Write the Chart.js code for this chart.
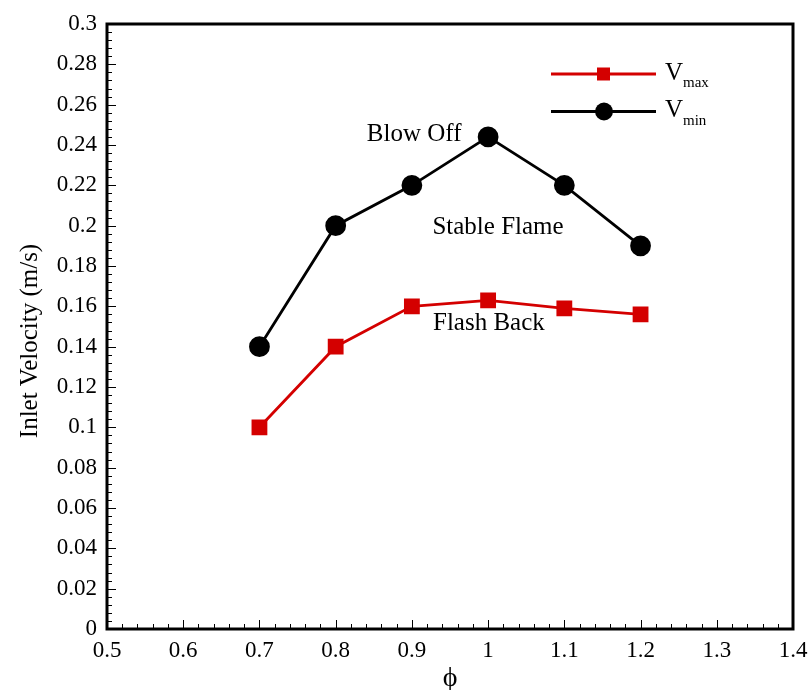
<!DOCTYPE html>
<html>
<head>
<meta charset="utf-8">
<script src="https://cdn.jsdelivr.net/npm/chart.js@4"></script>
<style>
  html, body { margin: 0; padding: 0; background: #fff; }
  #wrap { width: 808px; height: 690px; }
</style>
</head>
<body>
<div id="wrap"><canvas id="chart" width="808" height="690"></canvas></div>
<script>
const phi = [0.7, 0.8, 0.9, 1.0, 1.1, 1.2];
const vMax = [0.1, 0.14, 0.16, 0.163, 0.159, 0.156];
const vMin = [0.14, 0.2, 0.22, 0.244, 0.22, 0.19];
const xTicks = [0.5, 0.6, 0.7, 0.8, 0.9, 1.0, 1.1, 1.2, 1.3, 1.4];
const yTicks = [0, 0.02, 0.04, 0.06, 0.08, 0.1, 0.12, 0.14, 0.16, 0.18, 0.2, 0.22, 0.24, 0.26, 0.28, 0.3];
const notes = [
    { text: 'Blow Off', x: 0.903, y: 0.245 },
    { text: 'Stable Flame', x: 1.013, y: 0.1993 },
    { text: 'Flash Back', x: 1.001, y: 0.1517 }
];

const RED = '#d40000';
const SERIF = '"Liberation Serif", "Times New Roman", serif';

// frame, inward ticks, axis titles, notes and legend
const decor = {
    id: 'decor',
    afterDatasetsDraw(chart) {
        const ctx = chart.ctx;
        const a = chart.chartArea;
        const xs = chart.scales.x, ys = chart.scales.y;
        ctx.save();
        ctx.strokeStyle = '#000';
        ctx.lineWidth = 1;
        for (let i = 0; i <= 45; i++) {
            const px = Math.round(xs.getPixelForValue(0.5 + i * 0.02)) + 0.5;
            const len = i % 5 === 0 ? 9 : 5;
            ctx.beginPath();
            ctx.moveTo(px, a.bottom);
            ctx.lineTo(px, a.bottom - len);
            ctx.stroke();
        }
        for (let i = 0; i <= 75; i++) {
            const py = Math.round(ys.getPixelForValue(i * 0.004)) + 0.5;
            const len = i % 5 === 0 ? 9 : 5;
            ctx.beginPath();
            ctx.moveTo(a.left, py);
            ctx.lineTo(a.left + len, py);
            ctx.stroke();
        }
        ctx.lineWidth = 3;
        ctx.strokeRect(a.left, a.top, a.right - a.left, a.bottom - a.top);

        ctx.fillStyle = '#000';
        ctx.textAlign = 'center';
        ctx.textBaseline = 'middle';
        ctx.font = '25px ' + SERIF;
        notes.forEach(n => {
            ctx.fillText(n.text, xs.getPixelForValue(n.x), ys.getPixelForValue(n.y));
        });

        // axis titles
        ctx.font = '28px ' + SERIF;
        ctx.fillText('ϕ', (a.left + a.right) / 2, 679);
        ctx.save();
        ctx.translate(30, 341);
        ctx.rotate(-Math.PI / 2);
        ctx.font = '25px ' + SERIF;
        ctx.fillText('Inlet Velocity (m/s)', 0, 0);
        ctx.restore();

        // legend
        const rows = [
            { color: RED, sub: 'max', y: 74, shape: 'rect' },
            { color: '#000', sub: 'min', y: 111.5, shape: 'circle' }
        ];
        rows.forEach(r => {
            ctx.strokeStyle = r.color;
            ctx.fillStyle = r.color;
            ctx.lineWidth = 2.8;
            ctx.beginPath();
            ctx.moveTo(551, r.y);
            ctx.lineTo(656, r.y);
            ctx.stroke();
            if (r.shape === 'rect') {
                ctx.fillRect(597, r.y - 6.5, 13, 13);
            } else {
                ctx.beginPath();
                ctx.arc(604, r.y, 9, 0, Math.PI * 2);
                ctx.fill();
            }
            ctx.fillStyle = '#000';
            ctx.textAlign = 'left';
            ctx.textBaseline = 'alphabetic';
            ctx.font = '25px ' + SERIF;
            ctx.fillText('V', 665, r.y + 5.5);
            ctx.font = '15px ' + SERIF;
            ctx.fillText(r.sub, 683, r.y + 13);
        });
        ctx.restore();
    }
};

new Chart(document.getElementById('chart'), {
    type: 'line',
    data: {
        datasets: [
            {
                label: 'Vmax',
                data: phi.map((p, i) => ({ x: p, y: vMax[i] })),
                borderColor: RED,
                backgroundColor: RED,
                borderWidth: 2.8,
                pointStyle: 'rect',
                pointRadius: 9.2,
                pointHoverRadius: 9.2,
                tension: 0
            },
            {
                label: 'Vmin',
                data: phi.map((p, i) => ({ x: p, y: vMin[i] })),
                borderColor: '#000',
                backgroundColor: '#000',
                borderWidth: 2.8,
                pointStyle: 'circle',
                pointRadius: 9,
                pointHoverRadius: 9,
                tension: 0
            }
        ]
    },
    options: {
        responsive: false,
        animation: false,
        layout: { padding: { top: 24, right: 15, left: 0, bottom: 0 }, autoPadding: false },
        plugins: { legend: { display: false }, tooltip: { enabled: false } },
        scales: {
            x: {
                type: 'linear',
                min: 0.5,
                max: 1.4,
                afterBuildTicks: s => { s.ticks = xTicks.map(v => ({ value: v })); },
                afterFit: s => { s.height = 61; },
                grid: { display: false },
                border: { display: false },
                ticks: {
                    color: '#000',
                    font: { family: SERIF, size: 23 },
                    padding: 0,
                    maxRotation: 0,
                    callback: v => String(+v.toFixed(2))
                }
            },
            y: {
                min: 0,
                max: 0.3,
                afterBuildTicks: s => { s.ticks = yTicks.map(v => ({ value: v })); },
                afterFit: s => { s.width = 107; },
                grid: { display: false },
                border: { display: false },
                ticks: {
                    color: '#000',
                    font: { family: SERIF, size: 23 },
                    padding: 2,
                    callback: v => String(+v.toFixed(3))
                }
            }
        }
    },
    plugins: [decor]
});
</script>
</body>
</html>
